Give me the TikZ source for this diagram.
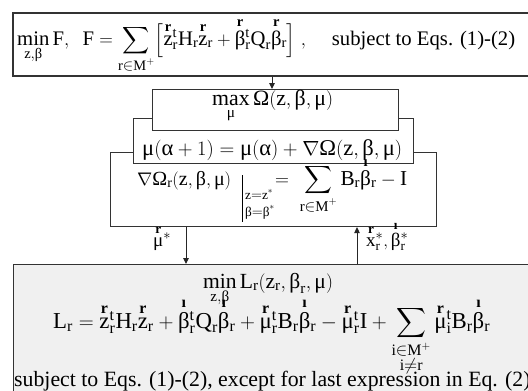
\documentclass[tikz,border=0pt]{standalone}
\usepackage{amsmath}
\usepackage{graphicx}
\usepackage{fontspec}
\setmainfont{Liberation Serif}
\usetikzlibrary{arrows.meta}
\newcommand\Tx[1]{\text{#1}}
\newcommand\Sr{_{\text{r}}}
\newcommand\VR[1]{\smash[t]{\overset{\text{\bfseries r}}{\text{#1}}}}
\newcommand\VB[1]{\smash[t]{\overset{\text{\bfseries ı}}{\text{#1}}}}
\tikzset{
  boxshape/.style={draw=black!80, line width=1.1pt, inner sep=0pt, anchor=north west},
  txt/.style={inner sep=0pt, font=\fontsize{19}{22}\selectfont},
  arr/.style={draw=black!85, line width=1pt, -{Triangle[length=6pt,width=5.5pt]}}
}
\begin{document}
\begin{tikzpicture}[x=1pt,y=-1pt]
\useasboundingbox (0,0) rectangle (528,391);
\clip (0,0) rectangle (528,391);
\fill[white] (0,0) rectangle (528,391);
% boxes
\node[boxshape, line width=1.5pt, minimum width=530pt, minimum height=63pt] (topbox) at (12,12) {};
\node[boxshape, fill=black!6, minimum width=530pt, minimum height=140pt] (botbox) at (13,264) {};
\node[boxshape, fill=white, minimum width=326pt, minimum height=74pt] (bigbox) at (110,152) {};
\node[boxshape, fill=white, minimum width=280pt, minimum height=45pt] (mubox) at (133,118) {};
\node[boxshape, fill=white, minimum width=246pt, minimum height=41pt] (maxbox) at (152,89) {};
% arrow positions
\coordinate (ca) at (272,0);
\coordinate (cm) at (186,0);
\coordinate (cx) at (357,0);
\draw[arr] (topbox.south -| ca) -- (maxbox.north -| ca);
\draw[arr] (bigbox.south -| cm) -- (botbox.north -| cm);
\draw[arr] (botbox.north -| cx) -- (bigbox.south -| cx);
% top formula
\node[txt, anchor=base west] (ftop) at (17,45) {\resizebox{498pt}{!}{$\underset{\Tx{z},\Tx{β}}{\Tx{min}}\,\Tx{F},\ \ \Tx{F}=\displaystyle\sum_{\Tx{r}\in\Tx{M}^+}\Bigl[\VR{z}\Sr^{\Tx{t}}\Tx{H}\Sr\VR{z}\Sr+\VR{β}\Sr^{\Tx{t}}\Tx{Q}\Sr\VR{β}\Sr\Bigr]\ ,\quad$ subject to Eqs. (1)-(2)}};
% middle formulas
\node[txt, anchor=base west] (fmax) at (212,105) {\resizebox{121pt}{!}{$\underset{\Tx{μ}}{\Tx{max}}\,\Tx{Ω}(\Tx{z},\Tx{β},\Tx{μ})$}};
\node[txt, anchor=base west] (fmu) at (142,155) {\resizebox{260pt}{!}{$\Tx{μ}(\Tx{α}+1)=\Tx{μ}(\Tx{α})+\nabla\Tx{Ω}(\Tx{z},\Tx{β},\Tx{μ})$}};
\node[txt, anchor=base west] (fgl) at (137,185) {\resizebox{94pt}{!}{$\nabla\Tx{Ω}\Sr(\Tx{z},\Tx{β},\Tx{μ})$}};
\coordinate (bt) at (242,175);
\coordinate (bb) at (242,222);
\draw[line width=0.8pt] (bt) -- (bb);
\node[txt, anchor=base west] (fs1) at (245,199) {$\scriptstyle\Tx{z}=\Tx{z}^{*}$};
\node[txt, anchor=base west] (fs2) at (245,216) {$\scriptstyle\Tx{β}=\Tx{β}^{*}$};
\node[txt, anchor=base west] (fgr) at (275,185) {\resizebox{132pt}{!}{$=\ \displaystyle\sum_{\Tx{r}\in\Tx{M}^+}\Tx{B}\Sr\VB{β}\Sr-\Tx{I}$}};
% labels of arrows
\node[txt, anchor=base west] (lmu) at (153,246) {$\VR{μ}^{*}$};
\node[txt, anchor=base west] (lx) at (366,246) {$\VR{x}\Sr^{*},\VB{β}\Sr^{*}$};
% bottom formulas
\node[txt, anchor=base] (fb1) at (268,288) {\resizebox{130pt}{!}{$\underset{\Tx{z},\Tx{β}}{\Tx{min}}\,\Tx{L}\Sr(\Tx{z}\Sr,\Tx{β}\Sr,\Tx{μ})$}};
\node[txt, anchor=base west] (fb2) at (53,328) {\resizebox{437pt}{!}{$\Tx{L}\Sr=\VR{z}\Sr^{\Tx{t}}\Tx{H}\Sr\VR{z}\Sr+\VB{β}\Sr^{\Tx{t}}\Tx{Q}\Sr\VB{β}\Sr+\VR{μ}\Sr^{\Tx{t}}\Tx{B}\Sr\VB{β}\Sr-\VR{μ}\Sr^{\Tx{t}}\Tx{I}+\displaystyle\sum_{\substack{\Tx{i}\in\Tx{M}^+\\ \Tx{i}\neq\Tx{r}}}\VR{μ}_{\Tx{i}}^{\Tx{t}}\Tx{B}\Sr\VB{β}\Sr$}};
\node[inner sep=0pt, anchor=base west, font=\fontsize{21.8}{26}\selectfont] (fb3) at (14,386) {subject to Eqs. (1)-(2), except for last expression in Eq. (2)};
\end{tikzpicture}
\end{document}
